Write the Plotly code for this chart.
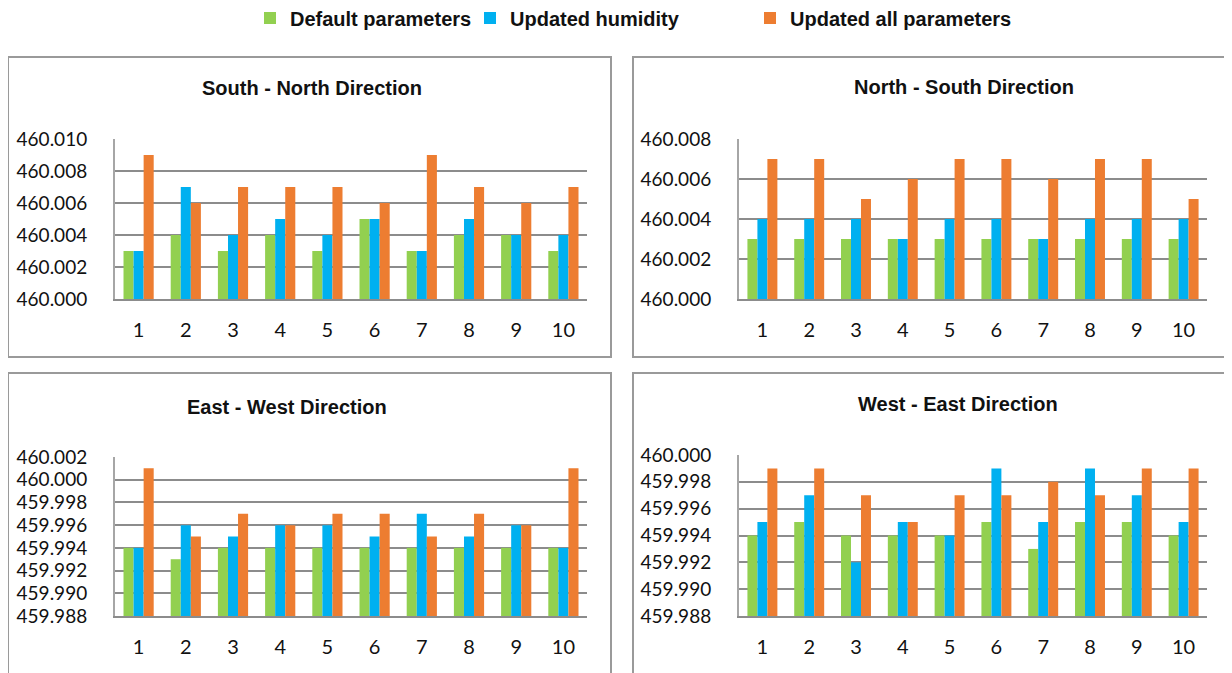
import plotly.graph_objects as go

# categorias
puntos = [str(i) for i in range(1, 11)]
series = ["Default parameters", "Updated humidity", "Updated all parameters"]

# South - North
sn_default = [460.003, 460.004, 460.003, 460.004, 460.003, 460.005, 460.003, 460.004, 460.004, 460.003]
sn_humedad = [460.003, 460.007, 460.004, 460.005, 460.004, 460.005, 460.003, 460.005, 460.004, 460.004]
sn_todos = [460.009, 460.006, 460.007, 460.007, 460.007, 460.006, 460.009, 460.007, 460.006, 460.007]

# North - South
ns_default = [460.003, 460.003, 460.003, 460.003, 460.003, 460.003, 460.003, 460.003, 460.003, 460.003]
ns_humedad = [460.004, 460.004, 460.004, 460.003, 460.004, 460.004, 460.003, 460.004, 460.004, 460.004]
ns_todos = [460.007, 460.007, 460.005, 460.006, 460.007, 460.007, 460.006, 460.007, 460.007, 460.005]

# East - West
ew_default = [459.994, 459.993, 459.994, 459.994, 459.994, 459.994, 459.994, 459.994, 459.994, 459.994]
ew_humedad = [459.994, 459.996, 459.995, 459.996, 459.996, 459.995, 459.997, 459.995, 459.996, 459.994]
ew_todos = [460.001, 459.995, 459.997, 459.996, 459.997, 459.997, 459.995, 459.997, 459.996, 460.001]

# West - East
we_default = [459.994, 459.995, 459.994, 459.994, 459.994, 459.995, 459.993, 459.995, 459.995, 459.994]
we_humedad = [459.995, 459.997, 459.992, 459.995, 459.994, 459.999, 459.995, 459.999, 459.997, 459.995]
we_todos = [459.999, 459.999, 459.997, 459.995, 459.997, 459.997, 459.998, 459.997, 459.999, 459.999]

COLORES = ["#92d050", "#00b0f0", "#ed7d31"]

W, H = 1232, 673
OFF = 8  # margen del body de la pagina


def px(x):
    return (x - OFF) / W


def py(y):
    return 1 - (y - OFF) / H


paneles = [
    # titulo, datos, rango y, caja (px), area grafico (px), centro titulo (px)
    ("South - North Direction", [sn_default, sn_humedad, sn_todos], [460.000, 460.010],
     (8, 57, 611, 357), (115, 139, 587, 299), (312, 88)),
    ("North - South Direction", [ns_default, ns_humedad, ns_todos], [460.000, 460.008],
     (633, 57, 1245, 357), (739, 139, 1207, 299), (964, 87)),
    ("East - West Direction", [ew_default, ew_humedad, ew_todos], [459.988, 460.002],
     (8, 373, 611, 690), (115, 457, 587, 616), (287, 407)),
    ("West - East Direction", [we_default, we_humedad, we_todos], [459.988, 460.000],
     (633, 373, 1245, 690), (739, 455, 1207, 616), (958, 404)),
]

fig = go.Figure()
layout_ejes = {}
shapes = []
annotations = []
leyendas = ["legend", "legend2", "legend3"]

for i, (titulo, datos, rango, caja, area, tpos) in enumerate(paneles):
    n = "" if i == 0 else str(i + 1)
    for j, valores in enumerate(datos):
        # base en el minimo del eje: la barra mide valor - base
        fig.add_trace(go.Bar(
            x=puntos, y=[v - rango[0] for v in valores], base=rango[0],
            name=series[j],
            marker=dict(color=COLORES[j], line_width=0),
            xaxis="x" + n, yaxis="y" + n,
            showlegend=(i == 0), legend=leyendas[j],
            offsetgroup=str(j),
        ))

    x0, y0, x1, y1 = area
    layout_ejes["xaxis" + n] = dict(
        domain=[px(x0), px(x1)], anchor="y" + n,
        showline=True, linecolor="#8c8c8c", linewidth=2,
        showgrid=False, ticks="", ticklabelstandoff=12,
        tickfont=dict(family="Lato", size=20, color="#111"),
    )
    layout_ejes["yaxis" + n] = dict(
        domain=[py(y1), py(y0)], anchor="x" + n,
        range=rango, tick0=rango[0], dtick=0.002, tickformat=".3f",
        showline=True, linecolor="#a6a6a6", linewidth=2,
        gridcolor="#8c8c8c", gridwidth=2, zeroline=False, ticks="",
        ticklabelstandoff=22,
        tickfont=dict(family="Lato", size=19, color="#111"),
    )

    bx0, by0, bx1, by1 = caja
    shapes.append(dict(
        type="rect", xref="paper", yref="paper",
        x0=px(bx0), x1=px(bx1), y0=py(by1), y1=py(by0),
        line=dict(color="#9a9a9a", width=2), layer="below",
    ))
    annotations.append(dict(
        text=titulo, xref="paper", yref="paper",
        x=px(tpos[0]), y=py(tpos[1]), showarrow=False,
        xanchor="center", yanchor="middle",
        font=dict(family="Liberation Sans", size=20, color="#111", weight="bold"),
    ))

leyenda_x = [250, 470, 750]
for j, nombre in enumerate(leyendas):
    layout_ejes[nombre] = dict(
        x=px(leyenda_x[j]), y=py(18), xanchor="left", yanchor="middle",
        orientation="h", bgcolor="rgba(0,0,0,0)",
        font=dict(family="Liberation Sans", size=20, color="#111", weight="bold"),
        itemwidth=30,
    )

fig.update_layout(
    **layout_ejes,
    barmode="group", bargap=0.36, bargroupgap=0,
    shapes=shapes, annotations=annotations,
    width=W, height=H,
    margin=dict(l=0, r=0, t=0, b=0, autoexpand=False),
    paper_bgcolor="white", plot_bgcolor="white",
)

fig.write_html("out.html")
